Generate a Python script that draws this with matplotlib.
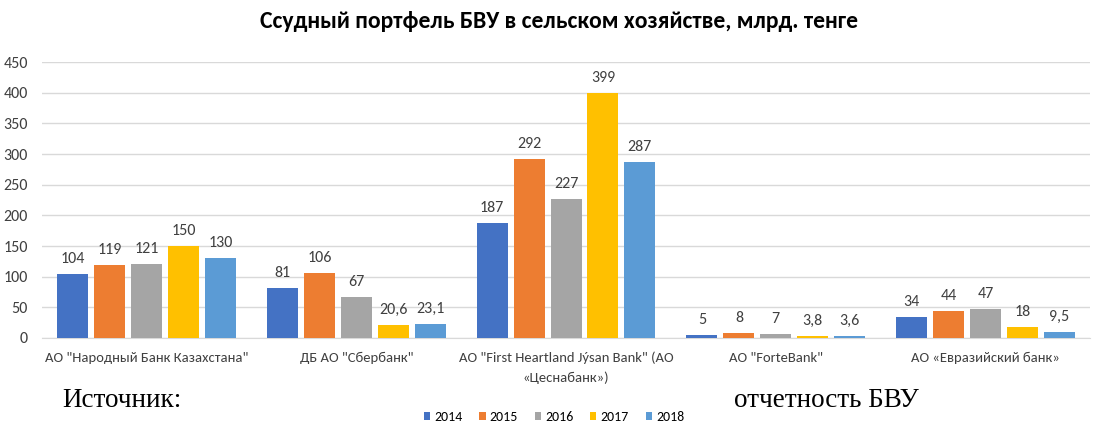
import matplotlib.pyplot as plt
import numpy as np

banks = ['АО "Народный Банк Казахстана"', 'ДБ АО "Сбербанк"',
         'АО "First Heartland Jýsan Bank" (АО\n«Цеснабанк»)',
         'АО "ForteBank"', 'АО «Евразийский банк»']
years = ['2014', '2015', '2016', '2017', '2018']
v2014 = [104, 81, 187, 5, 34]
v2015 = [119, 106, 292, 8, 44]
v2016 = [121, 67, 227, 7, 47]
v2017 = [150, 20.6, 399, 3.8, 18]
v2018 = [130, 23.1, 287, 3.6, 9.5]
colors = ['#4472C4', '#ED7D31', '#A5A5A5', '#FFC000', '#5B9BD5']

narrow = ['Carlito', 'Liberation Sans Narrow', 'DejaVu Sans']

def fmt(v):
    return ('%g' % v).replace('.', ',')

fig = plt.figure(figsize=(10.97, 4.23), dpi=100)
ax = fig.add_axes([0.038, 0.201, 0.956, 0.652])

x = np.arange(len(banks))
w = 0.148
series = [v2014, v2015, v2016, v2017, v2018]
for i, (vals, c) in enumerate(zip(series, colors)):
    pos = x + (i - 2) * 0.176
    ax.bar(pos, vals, width=w, color=c, label=years[i], zorder=3)
    for p, v in zip(pos, vals):
        ax.text(p, v + 13, fmt(v), ha='center', va='bottom', fontsize=11.5,
                family=narrow, color='#404040')

ax.set_ylim(0, 450)
ax.set_xlim(-0.5, 4.5)
ax.set_yticks(range(0, 451, 50))
ax.yaxis.grid(True, color='#D9D9D9', linewidth=1, zorder=0)
for s in ['top', 'right', 'left']:
    ax.spines[s].set_visible(False)
ax.spines['bottom'].set_color('#D9D9D9')
ax.tick_params(axis='both', length=0, labelcolor='#404040')
ax.set_xticks(x)
ax.set_xticklabels(banks, family=narrow, fontsize=10.5, linespacing=1.7)
for t in ax.get_yticklabels():
    t.set_family(narrow)
    t.set_fontsize(11.5)
ax.tick_params(axis='x', pad=10)
ax.tick_params(axis='y', pad=10)

fig.text(0.51, 0.948, 'Ссудный портфель БВУ в сельском хозяйстве, млрд. тенге',
         ha='center', va='center', fontsize=17, fontweight='bold', family=narrow)
fig.text(0.057, 0.053, 'Источник:', fontsize=19.5, family='Liberation Serif', va='center')
fig.text(0.669, 0.053, 'отчетность БВУ', fontsize=19.5, family='Liberation Serif', va='center')

fig.legend(loc='center', bbox_to_anchor=(0.505, 0.014), ncol=5, frameon=False,
           handlelength=0.45, handleheight=0.45, handletextpad=0.3,
           columnspacing=1.2, prop={'family': narrow, 'size': 10})

fig.savefig('out.png', dpi=100)
